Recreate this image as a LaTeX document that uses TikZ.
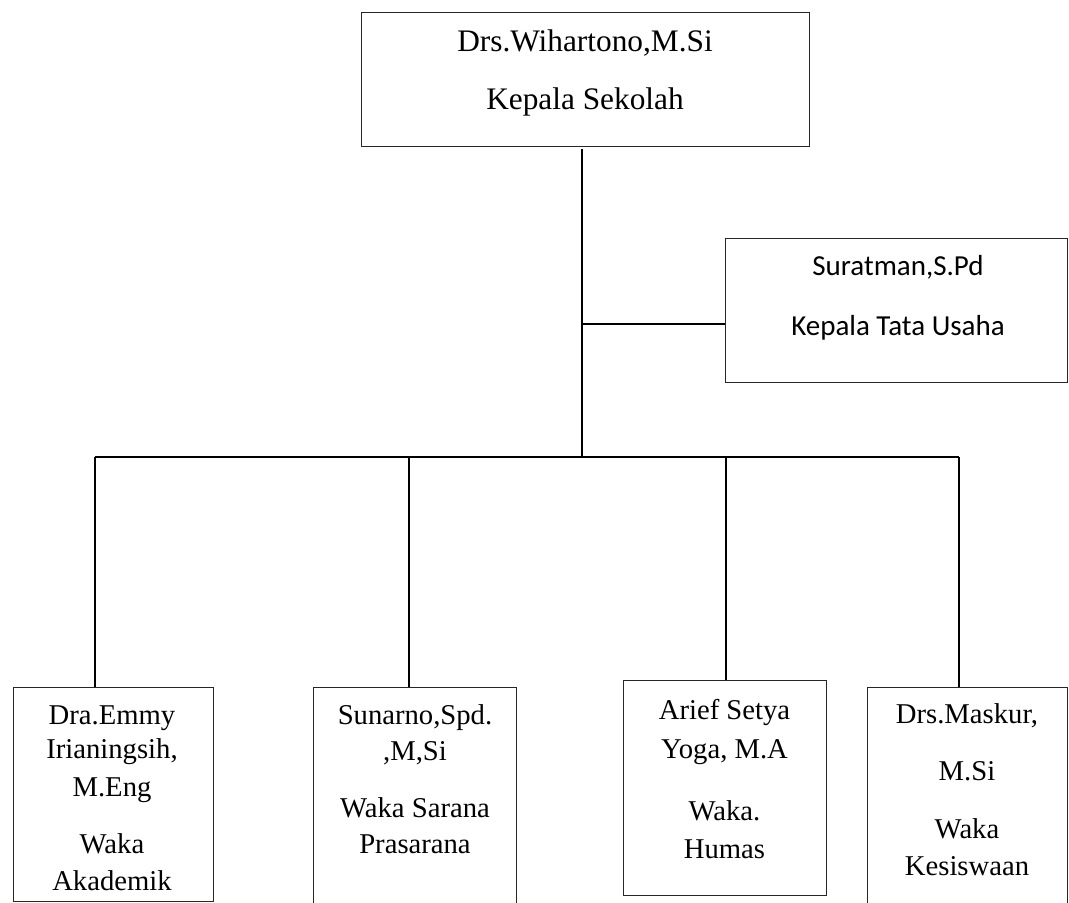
\documentclass[tikz,border=0pt]{standalone}
\usepackage{fontspec}
\setmainfont{Liberation Serif}
\newfontfamily\tufont{Carlito}
\begin{document}
\begin{tikzpicture}[x=0.75pt,y=-0.75pt,
  box/.style={draw=black!85, line width=1pt, inner sep=0pt, anchor=north west},
  conn/.style={draw=black, line width=1.5pt},
  topt/.style={anchor=base, inner sep=0pt, font=\fontsize{23.5pt}{28pt}\selectfont},
  bt/.style={anchor=base, inner sep=0pt, font=\fontsize{21.5pt}{26pt}\selectfont},
  tut/.style={anchor=base, inner sep=0pt, font=\tufont\fontsize{21.75pt}{26pt}\selectfont}]
\useasboundingbox (0,0) rectangle (1069,902);
\clip (0,0) rectangle (1069,902);
\fill[white] (0,0) rectangle (1069,902);

% boxes
\node[box, minimum width=336pt, minimum height=100.5pt] (ks) at (361,12) {};
\node[box, minimum width=256.5pt, minimum height=108pt] (tu) at (725,238) {};
\node[box, minimum width=150pt, minimum height=160.5pt] (b1) at (13,687) {};
\node[box, minimum width=152.25pt, minimum height=170pt] (b2) at (313,687) {};
\node[box, minimum width=152.25pt, minimum height=161.25pt] (b3) at (623,680) {};
\node[box, minimum width=150pt, minimum height=170pt] (b4) at (867,687) {};

% texts
\node[topt] (ks1) at (585,52) {Drs.Wihartono,M.Si};
\node[topt] (ks2) at (585,110) {Kepala Sekolah};
\node[tut] (tu1) at (898,275) {Suratman,S.Pd};
\node[tut] (tu2) at (898,335) {Kepala Tata Usaha};

\node[bt] (b1a) at (112,724) {Dra.Emmy};
\node[bt] (b1b) at (112,758) {Irianingsih,};
\node[bt] (b1c) at (112,796) {M.Eng};
\node[bt] (b1d) at (112,853) {Waka};
\node[bt] (b1e) at (112,890) {Akademik};

\node[bt] (b2a) at (415,724) {Sunarno,Spd.};
\node[bt] (b2b) at (415,760) {,M,Si};
\node[bt] (b2c) at (415,817) {Waka Sarana};
\node[bt] (b2d) at (415,853) {Prasarana};

\node[bt] (b3a) at (724.5,719) {Arief Setya};
\node[bt] (b3b) at (724.5,758) {Yoga, M.A};
\node[bt] (b3c) at (724.5,820) {Waka.};
\node[bt] (b3d) at (724.5,858) {Humas};

\node[bt] (b4a) at (967,723) {Drs.Maskur,};
\node[bt] (b4b) at (967,780) {M.Si};
\node[bt] (b4c) at (967,838) {Waka};
\node[bt] (b4d) at (967,875) {Kesiswaan};

% connectors
\coordinate (j) at (582,457);
\coordinate (tj) at (582,324);
\coordinate (bl) at (95,457);
\coordinate (br) at (959,457);
\coordinate (d2) at (409,457);
\coordinate (d3) at (726,457);

\draw[conn] (j |- 0,149) -- (j);
\draw[conn] (tj) -- (tu.west |- tj);
\draw[conn] (bl) -- (br);
\draw[conn] (bl) -- (bl |- b1.north);
\draw[conn] (d2) -- (d2 |- b2.north);
\draw[conn] (d3) -- (d3 |- b3.north);
\draw[conn] (br) -- (br |- b4.north);
\end{tikzpicture}
\end{document}
